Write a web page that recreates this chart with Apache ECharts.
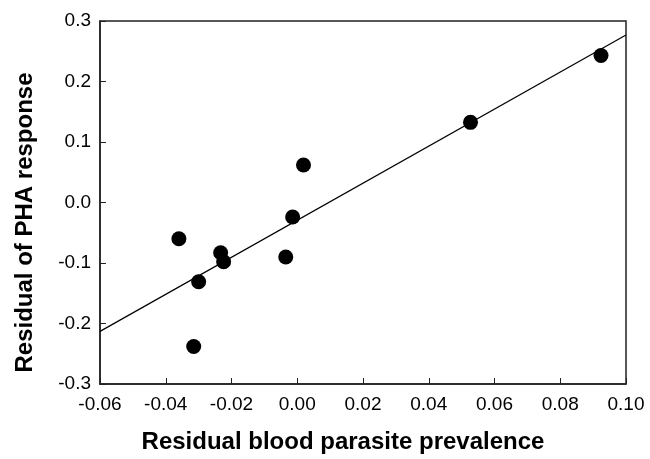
<!DOCTYPE html>
<html>
<head>
<meta charset="utf-8">
<script src="https://cdn.jsdelivr.net/npm/echarts@6/dist/echarts.min.js"></script>
<style>
html,body{margin:0;padding:0;background:#fff;}
#chart{width:650px;height:459px;}
</style>
</head>
<body>
<div id="chart"></div>
<script>
var xValues = [-0.036, -0.0315, -0.030, -0.0233, -0.0224, -0.0035, -0.0014, 0.0019, 0.0527, 0.0924];
var yValues = [-0.060, -0.238, -0.131, -0.083, -0.098, -0.090, -0.024, 0.062, 0.1325, 0.243];
var fitX = [-0.06, 0.10];
var fitY = [-0.213, 0.277];
var xTitle = 'Residual blood parasite prevalence';
var yTitle = 'Residual of PHA response';

var pts = xValues.map(function(x, i){ return [x, yValues[i]]; });
var fit = fitX.map(function(x, i){ return [x, fitY[i]]; });

var font = '"Liberation Sans", Arial, Helvetica, sans-serif';
var chart = echarts.init(document.getElementById('chart'), null, {renderer:'canvas'});
chart.setOption({
  animation: false,
  grid: {left: 100, right: 24, top: 21, bottom: 69, show: true, borderColor: '#222', borderWidth: 1.5, backgroundColor: 'transparent'},
  xAxis: {
    type: 'value', min: -0.06, max: 0.10, interval: 0.02,
    name: xTitle, nameLocation: 'middle', nameGap: 46,
    nameTextStyle: {fontFamily: font, fontSize: 24, fontWeight: 'bold', color: '#000', padding: [0, 40, 0, 0]},
    axisLine: {show: true, onZero: false, lineStyle: {color: '#222', width: 1.5}},
    axisTick: {show: true, inside: true, length: 6, lineStyle: {color: '#222', width: 1}},
    axisLabel: {fontFamily: font, fontSize: 19, color: '#000', margin: 11,
      formatter: function(v){ return v.toFixed(2); }},
    splitLine: {show: false}
  },
  yAxis: {
    type: 'value', min: -0.3, max: 0.3, interval: 0.1,
    name: yTitle, nameLocation: 'middle', nameGap: 63,
    nameTextStyle: {fontFamily: font, fontSize: 24, fontWeight: 'bold', color: '#000', padding: [0, 40, 0, 0]},
    axisLine: {show: true, onZero: false, lineStyle: {color: '#222', width: 1.5}},
    axisTick: {show: true, inside: true, length: 6, lineStyle: {color: '#222', width: 1}},
    axisLabel: {fontFamily: font, fontSize: 19, color: '#000', margin: 9,
      formatter: function(v){ return v.toFixed(1); }},
    splitLine: {show: false}
  },
  series: [
    {type: 'line', data: fit, symbol: 'none', silent: true,
     lineStyle: {color: '#000', width: 1.2}, z: 2},
    {type: 'scatter', data: pts, symbol: 'circle', symbolSize: 15,
     itemStyle: {color: '#000', opacity: 1}, z: 3}
  ]
});
</script>
</body>
</html>
